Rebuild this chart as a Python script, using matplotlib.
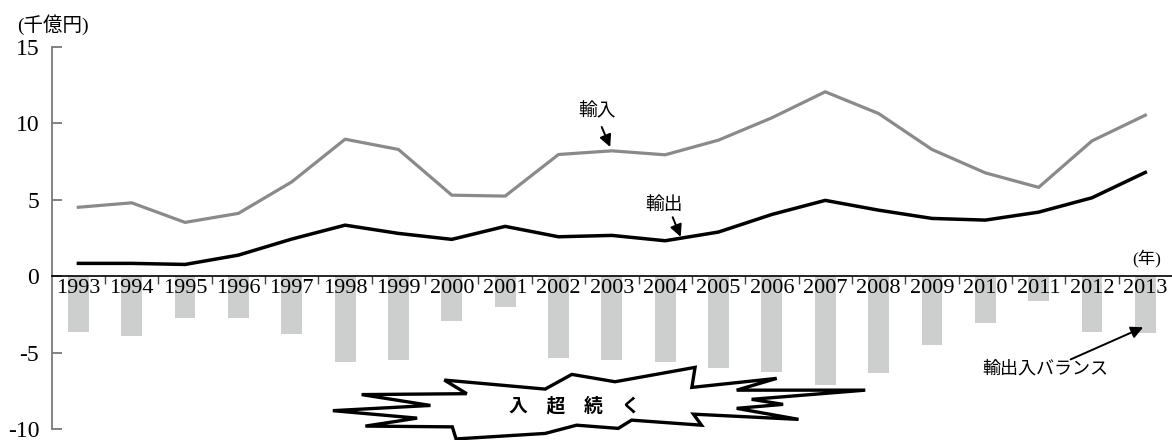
import numpy as np
import matplotlib
matplotlib.use('Agg')
import matplotlib.pyplot as plt
from matplotlib.patches import Polygon

plt.rcParams['font.family'] = ['Liberation Serif', 'Noto Sans CJK JP']
plt.rcParams['axes.unicode_minus'] = False

# trade with partner country, 1993-2013 (hundred billion yen)
years = list(range(1993, 2014))
imports = [4.50, 4.79, 3.51, 4.10, 6.16, 8.95, 8.28, 5.29, 5.23, 7.95, 8.19,
           7.93, 8.89, 10.35, 12.05, 10.63, 8.28, 6.75, 5.80, 8.84, 10.52]
exports = [0.83, 0.83, 0.76, 1.37, 2.42, 3.33, 2.79, 2.40, 3.25, 2.57, 2.66,
           2.31, 2.88, 4.03, 4.95, 4.31, 3.77, 3.66, 4.18, 5.12, 6.78]
balance = [-3.68, -3.90, -2.77, -2.72, -3.79, -5.64, -5.47, -2.94, -2.00, -5.36, -5.49,
           -5.64, -5.99, -6.30, -7.10, -6.32, -4.53, -3.07, -1.63, -3.68, -3.75]
y_ticks = [15, 10, 5, 0, -5, -10]

# jagged callout outline, in (year index, value) units
burst_outline = [
    (4.77, -8.80), (6.60, -8.46), (5.31, -7.75), (7.28, -7.69), (6.86, -6.80),
    (8.75, -7.39), (9.25, -6.43), (10.06, -6.91), (11.56, -5.97), (11.50, -7.28),
    (13.09, -6.69), (12.34, -7.46), (14.75, -7.46), (12.62, -8.06), (13.21, -8.39),
    (12.34, -8.65), (13.50, -9.37), (11.53, -9.03), (11.68, -9.75), (10.37, -9.42),
    (10.12, -9.96), (9.34, -9.75), (8.75, -10.29), (7.08, -10.65), (7.01, -9.86),
    (5.38, -9.81), (6.35, -9.29),
]

idx = np.arange(len(years))
imp = np.array(imports)
exp = np.array(exports)

fig = plt.figure(figsize=(11.72, 4.4), dpi=100)
ax = fig.add_axes([0.0441, 0.025, 0.9559, 0.8689])

ax.bar(idx, balance, width=0.39, color='#cdcfcf', zorder=1)
ax.plot(idx, imp, color='#8a8a8a', lw=2.3, zorder=3)
ax.plot(idx, exp, color='black', lw=2.5, zorder=3)

ax.set_xlim(-0.5, len(years) - 0.5)
ax.set_ylim(-10, 15)

for side in ['top', 'right']:
    ax.spines[side].set_visible(False)
ax.spines['left'].set_color('#7a7a7a')
ax.spines['left'].set_linewidth(1.3)
ax.spines['bottom'].set_position(('data', 0))
ax.spines['bottom'].set_color('black')
ax.spines['bottom'].set_linewidth(1.2)

ax.set_yticks(y_ticks)
ax.set_yticklabels([str(v) for v in y_ticks])
ax.tick_params(axis='y', direction='in', length=7, width=1.3, color='#7a7a7a',
               pad=9, labelsize=17)

# separators between years as major ticks, year names on minor ticks
ax.set_xticks(idx[:-1] + 0.5)
ax.set_xticklabels([])
ax.set_xticks(idx, minor=True)
ax.set_xticklabels([str(y) for y in years], minor=True)
ax.tick_params(axis='x', which='major', direction='out', length=6, width=1.0,
               color='#444444')
ax.tick_params(axis='x', which='minor', length=0, pad=2, labelsize=16)

ax.text(-0.475, 16.42, '(千億円)', fontsize=14, ha='center', va='center',
        clip_on=False)
ax.text(20.03, 1.18, '(年)', fontsize=12.5, ha='center', va='center')

arrow = dict(arrowstyle='-|>', color='black', lw=1.4, mutation_scale=18,
             shrinkA=0)

ax.text(9.72, 10.73, '輸入', fontsize=13.5, ha='center', va='center')
ax.annotate('', xy=(10, imp[10]), xytext=(9.81, 9.75),
            arrowprops=dict(arrow, shrinkB=3))

ax.text(10.98, 4.64, '輸出', fontsize=13.5, ha='center', va='center')
ax.annotate('', xy=(11.3, np.interp(11.3, idx, exp)), xytext=(11.14, 3.85),
            arrowprops=dict(arrow, shrinkB=1))

ax.text(18.12, -6.05, '輸出入バランス', fontsize=13, ha='center', va='center')
ax.annotate('', xy=(19.96, balance[20] + 0.4), xytext=(18.60, -5.45),
            arrowprops=dict(arrow, shrinkB=0))

burst = Polygon(burst_outline, closed=True, facecolor='white', edgecolor='black',
                lw=2.4, joinstyle='miter', zorder=4, clip_on=False)
ax.add_patch(burst)
ax.text(9.31, -8.50, '入　超　続　く', fontsize=13.5, fontweight='bold',
        family='Noto Sans CJK JP', ha='center', va='center', zorder=5)

fig.savefig('out.png', dpi=100)
